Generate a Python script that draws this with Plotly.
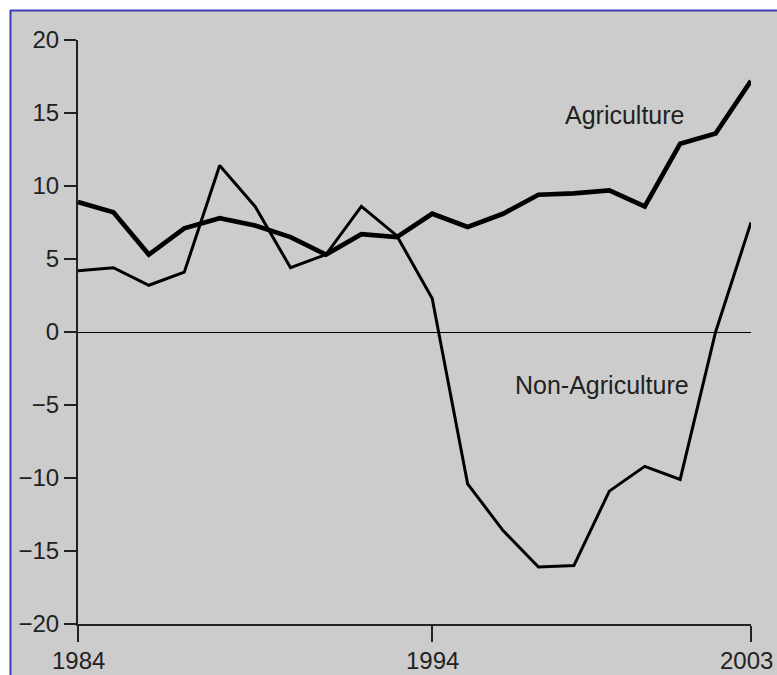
import plotly.graph_objects as go

years = list(range(1984, 2004))
agriculture = [8.9, 8.2, 5.3, 7.1, 7.8, 7.3, 6.5, 5.3, 6.7, 6.5,
               8.1, 7.2, 8.1, 9.4, 9.5, 9.7, 8.6, 12.9, 13.6, 17.2]
non_agriculture = [4.2, 4.4, 3.2, 4.1, 11.4, 8.6, 4.4, 5.3, 8.6, 6.6,
                   2.3, -10.4, -13.6, -16.1, -16.0, -10.9, -9.2, -10.1, 0.0, 7.5]
x_ticks = [1984, 1994, 2003]
y_ticks = [-20, -15, -10, -5, 0, 5, 10, 15, 20]
labels = {"Agriculture": (1999.44, 14.86), "Non-Agriculture": (1998.79, -3.63)}

W, H = 777, 675
L, R, T, B = 78, W - 751, 40, H - 624
pw, ph = W - L - R, H - T - B

def fx(px):
    return (px - L) / pw

def fy(py):
    return (H - B - py) / ph

fig = go.Figure()
fig.add_trace(go.Scatter(x=years, y=non_agriculture, mode="lines",
                         line=dict(color="#000000", width=3), name="Non-Agriculture"))
fig.add_trace(go.Scatter(x=years, y=agriculture, mode="lines",
                         line=dict(color="#000000", width=4.7), name="Agriculture"))

for txt, (xv, yv) in labels.items():
    fig.add_annotation(x=xv, y=yv, text=txt, showarrow=False,
                       font=dict(size=25, color="#222222"), xanchor="center", yanchor="middle")

for v in x_ticks:
    fig.add_annotation(x=v, xref="x", y=0, yref="paper", text=str(v), showarrow=False,
                       font=dict(size=24, color="#222222"), xanchor="center", yanchor="middle",
                       yshift=-36, xshift=(-5 if v == x_ticks[-1] else 0))

gray = "#cccccc"
blue = "#3c3cb4"
shapes = [
    dict(type="rect", xref="paper", yref="paper", x0=fx(-20), x1=fx(800), y0=fy(10), y1=fy(-20),
         fillcolor="white", line=dict(width=0), layer="above"),
    dict(type="rect", xref="paper", yref="paper", x0=fx(-20), x1=fx(10), y0=fy(700), y1=fy(-20),
         fillcolor="white", line=dict(width=0), layer="above"),
    dict(type="line", xref="paper", yref="paper", x0=fx(10), x1=fx(800), y0=fy(10.5), y1=fy(10.5),
         line=dict(color=blue, width=2), layer="above"),
    dict(type="line", xref="paper", yref="paper", x0=fx(10.5), x1=fx(10.5), y0=fy(10), y1=fy(700),
         line=dict(color=blue, width=2), layer="above"),
]

fig.update_layout(
    width=W, height=H,
    margin=dict(l=L, r=R, t=T, b=B, pad=0),
    paper_bgcolor=gray, plot_bgcolor=gray,
    showlegend=False,
    font=dict(family="Liberation Sans, Arial, sans-serif", size=24, color="#222222"),
    shapes=shapes,
    xaxis=dict(range=[1984, 2003], tickvals=x_ticks, showticklabels=False,
               showgrid=False, zeroline=False, showline=True, linecolor="#222222", linewidth=2,
               ticks="outside", ticklen=16, tickwidth=2, tickcolor="#222222", automargin=False,
               fixedrange=True),
    yaxis=dict(range=[-20, 20], tickvals=y_ticks, showgrid=False,
               zeroline=True, zerolinecolor="#000000", zerolinewidth=1,
               showline=True, linecolor="#222222", linewidth=2,
               ticks="outside", ticklen=12, tickwidth=2, tickcolor="#222222", automargin=False,
               fixedrange=True),
)

fig.write_html("out.html", config={"displayModeBar": False},
               post_script="document.body.style.margin='0';document.body.style.overflow='hidden';")
